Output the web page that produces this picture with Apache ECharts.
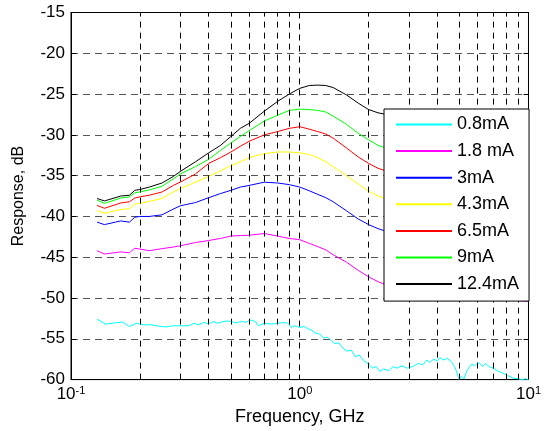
<!DOCTYPE html>
<html>
<head>
<meta charset="utf-8">
<script src="https://cdn.jsdelivr.net/npm/echarts@6/dist/echarts.min.js"></script>
<style>html,body{margin:0;padding:0;background:#fff;}#c{width:544px;height:431px;}</style>
</head>
<body>
<div id="c"></div>
<script>
// Frequencies (GHz) shared by the six smooth curves
var freq = [0.13,0.14,0.165,0.18,0.19,0.2,0.22,0.25,0.28,0.3,0.35,0.4,0.45,0.5,0.55,0.6,0.7,0.8,0.9,1.0,1.1,1.2,1.3,1.4,1.6,1.8,2.0,2.2,2.5,3,4,5,6,7,8,9,10];
var s18  = [-44.2,-44.6,-44.35,-44.45,-43.9,-44.0,-44.2,-43.95,-43.75,-43.6,-43.2,-42.95,-42.7,-42.4,-42.35,-42.3,-42.1,-42.4,-42.7,-42.85,-43.3,-43.7,-44.1,-44.7,-45.6,-46.6,-47.4,-48.0,-48.6,-49.0,-49.5,-49.8,-50.0,-50.1,-50.2,-50.3,-50.4];
var s3   = [-40.7,-41.0,-40.55,-40.7,-40.1,-40.0,-40.0,-39.8,-39.1,-38.7,-38.3,-37.7,-37.2,-36.8,-36.4,-36.2,-35.8,-35.9,-36.1,-36.4,-36.85,-37.3,-37.7,-38.2,-39.3,-40.3,-41.0,-41.5,-42.0,-42.5,-43.0,-43.3,-43.5,-43.6,-43.7,-43.8,-43.8];
var s43  = [-39.3,-39.6,-39.15,-39.05,-38.5,-38.4,-38.15,-37.8,-37.0,-36.6,-35.8,-35.1,-34.4,-33.8,-33.3,-32.8,-32.3,-32.1,-32.1,-32.2,-32.4,-32.8,-33.3,-33.9,-35.0,-36.0,-36.9,-37.5,-38.0,-38.4,-38.9,-39.3,-39.6,-39.9,-40.0,-40.1,-40.2];
var s65  = [-38.65,-39.0,-38.35,-38.2,-37.75,-37.6,-37.4,-37.0,-36.2,-35.8,-34.8,-33.5,-32.8,-32.1,-31.4,-30.8,-30.0,-29.6,-29.2,-29.0,-29.3,-29.6,-29.9,-30.4,-31.6,-32.7,-33.5,-34.1,-34.6,-35.0,-35.4,-35.9,-36.3,-36.7,-36.9,-37.1,-37.2];
var s9   = [-38.0,-38.4,-37.75,-37.6,-37.1,-37.0,-36.75,-36.3,-35.4,-34.8,-33.9,-33.0,-31.9,-31.0,-30.2,-29.5,-28.3,-27.6,-27.0,-26.85,-26.9,-27.0,-27.2,-27.7,-28.7,-29.8,-30.6,-31.3,-31.8,-32.2,-32.5,-33.0,-33.6,-34.1,-34.4,-34.6,-34.8];
var s124 = [-37.8,-38.1,-37.5,-37.4,-36.8,-36.7,-36.4,-35.9,-35.1,-34.5,-33.3,-32.2,-31.3,-30.2,-29.2,-28.6,-27.1,-25.9,-25.0,-24.3,-23.95,-23.9,-23.95,-24.2,-25.1,-26.1,-26.9,-27.3,-27.6,-27.5,-27.0,-28.0,-29.3,-30.3,-31.0,-31.4,-31.75];
// Noisy 0.8 mA curve, own frequency grid
var freq08 = [0.13,0.142,0.155,0.168,0.18,0.193,0.209,0.222,0.236,0.26,0.28,0.3,0.327,0.345,0.362,0.38,0.4,0.42,0.44,0.455,0.48,0.503,0.53,0.56,0.578,0.61,0.64,0.66,0.7,0.75,0.8,0.85,0.887,0.92,0.95,1.0,1.05,1.083,1.12,1.17,1.22,1.27,1.32,1.36,1.42,1.48,1.55,1.61,1.68,1.75,1.82,1.91,2.0,2.08,2.16,2.24,2.33,2.45,2.56,2.66,2.8,2.95,3.15,3.3,3.45,3.6,3.7,3.85,4.0,4.1,4.24,4.4,4.6,4.75,4.83,4.98,5.1,5.23,5.36,5.5,5.65,5.8,6.07,6.3,6.5,6.71,7.0,7.3,7.72,8.1,8.53,9.0,9.4,9.7,10];
var s08 = [-52.6,-53.2,-53.05,-52.95,-53.5,-53.1,-53.3,-53.25,-53.4,-53.55,-53.4,-53.4,-53.4,-53.1,-53.3,-53.0,-53.15,-52.9,-53.1,-52.95,-52.8,-52.9,-53.05,-52.85,-53.0,-52.7,-52.9,-53.4,-53.1,-53.2,-53.1,-53.0,-53.1,-53.6,-53.4,-53.6,-53.5,-53.75,-53.9,-54.3,-54.4,-54.9,-54.8,-55.1,-55.6,-55.5,-56.2,-56.5,-56.4,-57.2,-57.0,-57.7,-58.1,-58.6,-58.4,-59.0,-58.7,-58.9,-58.4,-58.6,-58.3,-58.6,-58.35,-58.0,-58.2,-57.6,-57.9,-57.5,-57.7,-57.3,-57.6,-57.4,-57.8,-58.4,-58.9,-60.0,-59.6,-59.9,-59.0,-58.5,-58.1,-58.3,-57.9,-58.4,-58.0,-58.4,-58.6,-58.9,-59.2,-59.5,-59.8,-59.9,-60.0,-59.9,-60.0];

var names  = ['0.8mA','1.8 mA','3mA','4.3mA','6.5mA','9mA','12.4mA'];
var colors = ['#00FFFF','#FF00FF','#0000FF','#FFFF00','#FF0000','#00FF00','#000000'];
var minorGrid = [0.2,0.3,0.4,0.5,0.6,0.7,0.8,0.9,2,3,4,5,6,7,8,9];

function pairs(xs, ys){ return xs.map(function(x,i){ return [x, ys[i]]; }); }
var seriesData = [pairs(freq08,s08), pairs(freq,s18), pairs(freq,s3), pairs(freq,s43), pairs(freq,s65), pairs(freq,s9), pairs(freq,s124)];

var FONT = 'Liberation Sans, Arial, sans-serif';
var series = [{
  type:'line', data:[], silent:true, z:1,
  markLine:{ silent:true, symbol:'none', label:{show:false}, animation:false,
    lineStyle:{color:'#000', width:1, type:[6,5]},
    data: minorGrid.map(function(v){ return {xAxis:v}; }) }
}];
names.forEach(function(n,i){
  series.push({ name:n, type:'line', data:seriesData[i], symbol:'none', showSymbol:false,
    lineStyle:{color:colors[i], width:1}, itemStyle:{color:colors[i]}, z:3, animation:false });
});

var chart = echarts.init(document.getElementById('c'), null, {renderer:'canvas'});
chart.setOption({
  backgroundColor:'#fff',
  animation:false,
  grid:{left:71, right:12, top:12.5, bottom:49, show:true, borderColor:'#000', borderWidth:1, backgroundColor:'#fff'},
  legend:{ data:names, orient:'vertical', left:384, top:109, padding:[6.5,10,8,11],
    itemWidth:56, itemHeight:14, itemGap:8.6, backgroundColor:'#fff', borderColor:'#000', borderWidth:1,
    itemStyle:{opacity:0, borderWidth:0},
    textStyle:{fontSize:18, fontFamily:FONT, color:'#000'}, selectedMode:false, z:10 },
  xAxis:[{
    type:'log', logBase:10, min:0.1, max:10,
    name:'Frequency, GHz', nameLocation:'middle', nameGap:26,
    nameTextStyle:{fontSize:18, fontFamily:FONT, color:'#000'},
    axisLine:{lineStyle:{color:'#000'}},
    axisTick:{inside:true, length:5, lineStyle:{color:'#000'}},
    axisLabel:{margin:6, color:'#000', fontFamily:FONT,
      formatter:function(v){ var e=Math.round(Math.log10(v)); return '{b|10}{s|'+e+'}'; },
      rich:{ b:{fontSize:17, fontFamily:FONT, color:'#000', lineHeight:18},
             s:{fontSize:11, fontFamily:FONT, color:'#000', verticalAlign:'top', lineHeight:11} } },
    splitLine:{show:true, lineStyle:{color:'#000', width:1, type:[6,5]}}
  },{
    type:'log', logBase:10, min:0.1, max:10, position:'top',
    axisLine:{lineStyle:{color:'#000'}}, axisTick:{inside:true, length:5, lineStyle:{color:'#000'}},
    axisLabel:{show:false}, splitLine:{show:false}
  }],
  yAxis:[{
    type:'value', min:-60, max:-15, interval:5,
    name:'Response, dB', nameLocation:'middle', nameGap:44,
    nameTextStyle:{fontSize:16, fontFamily:FONT, color:'#000'},
    axisLine:{show:true, lineStyle:{color:'#000'}},
    axisTick:{show:true, inside:true, length:5, lineStyle:{color:'#000'}},
    axisLabel:{margin:6, fontSize:17, fontFamily:FONT, color:'#000'},
    splitLine:{show:true, lineStyle:{color:'#555', width:1, type:[7,5]}}
  },{
    type:'value', min:-60, max:-15, interval:5, position:'right',
    axisLine:{show:true, lineStyle:{color:'#000'}},
    axisTick:{show:true, inside:true, length:5, lineStyle:{color:'#000'}},
    axisLabel:{show:false}, splitLine:{show:false}
  }],
  series: series
});
</script>
</body>
</html>
